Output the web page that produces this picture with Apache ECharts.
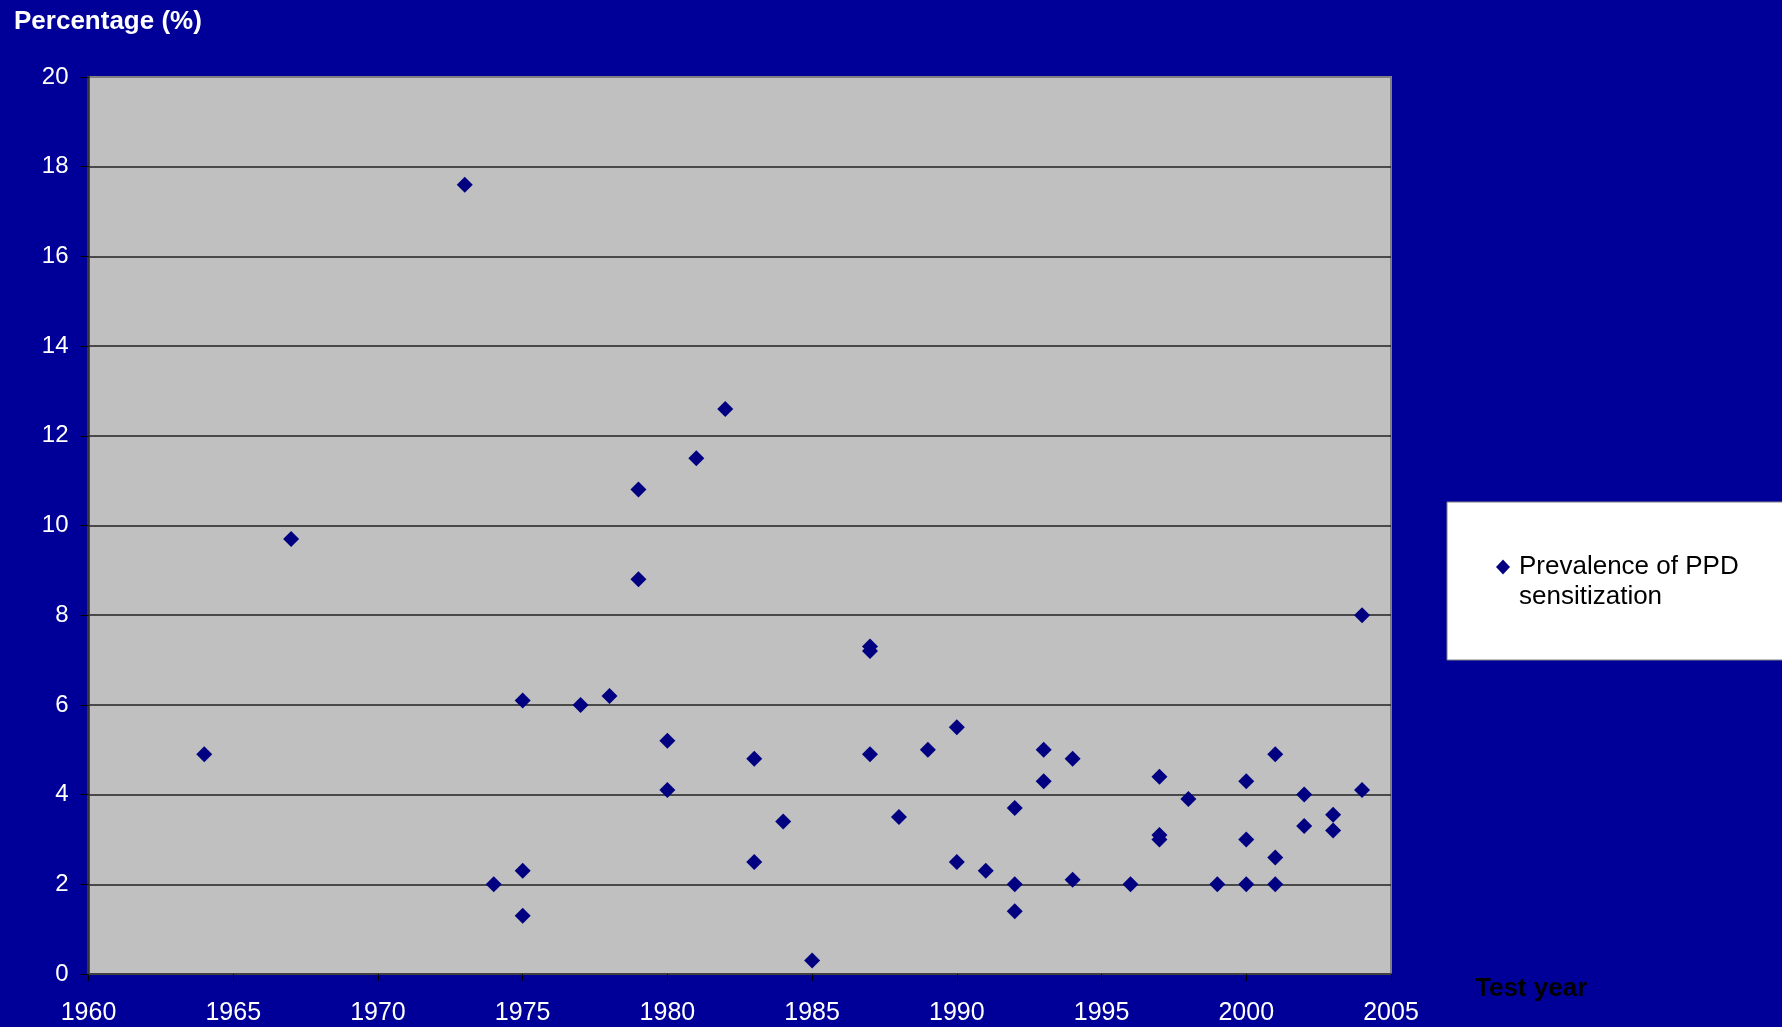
<!DOCTYPE html>
<html>
<head>
<meta charset="utf-8">
<script src="https://cdn.jsdelivr.net/npm/echarts@6/dist/echarts.min.js"></script>
<style>
html,body{margin:0;padding:0;background:#000099;}
#chart{width:1782px;height:1027px;}
</style>
</head>
<body>
<div id="chart"></div>
<script>
const seriesName = 'Prevalence of PPD\nsensitization';
const yAxisTitle = 'Percentage (%)';
const xAxisTitle = 'Test year';
const testYears = [1964,1967,1973,1974,1975,1975,1975,1977,1978,1979,1979,1980,1980,1981,1982,1983,1983,1984,1985,1987,1987,1987,1988,1989,1990,1990,1991,1992,1992,1992,1993,1993,1994,1994,1996,1997,1997,1997,1998,1999,2000,2000,2000,2001,2001,2001,2002,2002,2003,2003,2004,2004];
const prevalence = [4.9,9.7,17.6,2.0,6.1,2.3,1.3,6.0,6.2,10.8,8.8,5.2,4.1,11.5,12.6,4.8,2.5,3.4,0.3,7.3,7.2,4.9,3.5,5.0,5.5,2.5,2.3,3.7,2.0,1.4,5.0,4.3,4.8,2.1,2.0,4.4,3.1,3.0,3.9,2.0,4.3,3.0,2.0,4.9,2.6,2.0,4.0,3.3,3.55,3.2,8.0,4.1];

const points = testYears.map((y, i) => [y, prevalence[i]]);
const FONT = '"Liberation Sans", Arial, sans-serif';

const chart = echarts.init(document.getElementById('chart'));
chart.setOption({
  backgroundColor: '#000099',
  animation: false,
  textStyle: { fontFamily: FONT },
  title: {
    text: yAxisTitle,
    left: 14, top: 9, padding: 0,
    textStyle: { color: '#ffffff', fontSize: 26, fontWeight: 'bold', fontFamily: FONT }
  },
  grid: {
    left: 88.5, right: 391, top: 77, bottom: 53,
    show: true, backgroundColor: '#c0c0c0', borderColor: '#808080', borderWidth: 2
  },
  legend: {
    left: 1447, top: 502,
    orient: 'vertical',
    backgroundColor: '#ffffff', borderColor: '#808080', borderWidth: 1,
    padding: [20, 80, 48, 49],
    itemWidth: 14, itemHeight: 15,
    icon: 'diamond',
    formatter: ' \n{name}',
    textStyle: { color: '#000000', fontSize: 26, lineHeight: 30, fontFamily: FONT, padding: [0, 0, 0, 4] },
    data: [seriesName]
  },
  xAxis: {
    type: 'value', min: 1960, max: 2005, interval: 5,
    name: xAxisTitle, nameLocation: 'end', nameGap: 84,
    nameTextStyle: { color: '#000000', fontSize: 26, fontWeight: 'bold', fontFamily: FONT, align: 'left', verticalAlign: 'top', lineHeight: 30 },
    axisLine: { show: true, lineStyle: { color: '#404040', width: 2 } },
    axisTick: { show: true, inside: false, length: 7, lineStyle: { color: '#000000', width: 1 } },
    axisLabel: { color: '#ffffff', fontSize: 25, margin: 27, fontFamily: FONT, formatter: v => String(v) },
    splitLine: { show: false }
  },
  yAxis: {
    type: 'value', min: 0, max: 20, interval: 2,
    axisLine: { show: true, lineStyle: { color: '#333333', width: 2.5 } },
    axisTick: { show: true, inside: false, length: 8, lineStyle: { color: '#000000', width: 1 } },
    axisLabel: { color: '#ffffff', fontSize: 24, margin: 20, fontFamily: FONT },
    splitLine: { show: true, showMinLine: false, showMaxLine: false, lineStyle: { color: '#222222', width: 1.5 } }
  },
  series: [{
    name: seriesName,
    type: 'scatter',
    symbol: 'diamond',
    symbolSize: [16, 16],
    itemStyle: { color: '#000080', opacity: 1 },
    data: points
  }]
});
</script>
</body>
</html>
